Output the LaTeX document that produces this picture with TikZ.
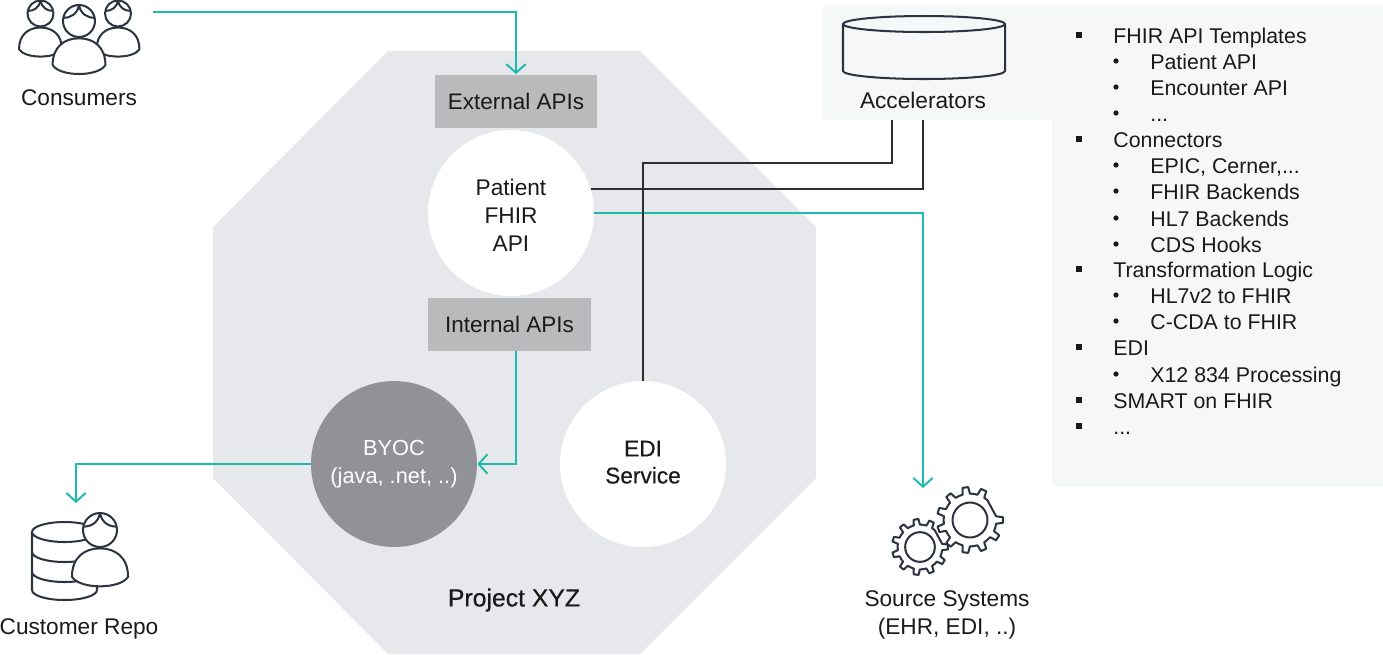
\documentclass[tikz,border=0pt]{standalone}
\usepackage{fontspec}
\setmainfont{Liberation Sans}
\newfontfamily\mediumfont[FakeBold=0.5]{Liberation Sans}
\usetikzlibrary{arrows.meta}
\definecolor{octagrey}{HTML}{E7E8EC}
\definecolor{boxgrey}{HTML}{B9BABC}
\definecolor{byocgrey}{HTML}{919295}
\definecolor{panelgrey}{HTML}{F6F8F8}
\definecolor{linkteal}{HTML}{1FB9AE}
\definecolor{linkblack}{HTML}{2E2E30}
\definecolor{iconblue}{HTML}{2B3440}
\definecolor{inkblack}{HTML}{1A1A1A}
\tikzset{
    apibox/.style={fill=boxgrey,minimum width=3.26cm,minimum height=1.06cm,inner sep=0pt,font=\fontsize{12.8}{15.6}\selectfont},
    roundnode/.style={circle,fill=white,minimum size=3.32cm,inner sep=0pt,align=center,font=\fontsize{12.9}{15.7}\selectfont},
    label/.style={inner sep=0pt,align=center,font=\fontsize{12.9}{16.4}\selectfont},
    itemtext/.style={inner sep=0pt,anchor=base west,font=\fontsize{12.15}{15}\selectfont},
    topbullet/.style={fill=inkblack,minimum size=3pt,inner sep=0pt},
    subbullet/.style={circle,fill=inkblack,minimum size=3pt,inner sep=0pt},
    teallink/.style={draw=linkteal,line width=1.1pt,-{Straight Barb[length=5pt,width=11pt]}},
    blacklink/.style={draw=linkblack,line width=1.1pt},
    iconline/.style={draw=iconblue,line width=1.15pt,line join=round},
    person/.pic={
        \draw[iconline,fill=white] (-1.65,2.75) .. controls (-1.65,1.6) and (-0.9,1.08) .. (0,1.08)
            .. controls (0.9,1.08) and (1.65,1.6) .. (1.65,2.75)
            .. controls (1.2,3.5) and (-1.2,3.5) .. cycle;
        \draw[iconline,fill=white] (0,0) circle (1);
        \draw[iconline] (0,-1) .. controls (-0.1,-0.45) and (-0.5,-0.2) .. (-0.97,-0.2);
        \draw[iconline] (0,-1) .. controls (0.1,-0.45) and (0.5,-0.2) .. (0.97,-0.2);
    },
    gear/.pic={
        \draw[iconline,fill=white] (-8:0.8)
            \foreach \ang in {0,32.73,...,327} {
                -- (\ang-8:0.8) -- (\ang-5:1) -- (\ang+5:1) -- (\ang+8:0.8) -- (\ang+16.36:0.8)
            } -- cycle;
        \draw[iconline] (0,0) circle (0.53);
    }
}
\begin{document}
\begin{tikzpicture}[x=0.02cm,y=-0.02cm,text=inkblack]
    \useasboundingbox (0,0) rectangle (1383,654);

    %%%%%%%%%% Sfondi %%%%%%%%%%
    \fill[octagrey] (388,51) -- (640,51) -- (816,227) -- (816,478) -- (640,654)
        -- (388,654) -- (213,478) -- (213,227) -- cycle;
    \fill[panelgrey] (823,5) -- (1383,5) -- (1383,486) -- (1052,486) -- (1052,120) -- (823,120) -- cycle;

    %%%%%%%%%% Nodi %%%%%%%%%%
    \node[apibox] (external) at (516,101) {External APIs};
    \node[apibox] (internal) at (509.5,324.5) {Internal APIs};
    \node[roundnode] (patient) at (511,213) {\rule{0pt}{12pt}Patient\\FHIR\\API};
    \node[roundnode,fill=byocgrey,text=white,font=\fontsize{12.4}{15.6}\selectfont] (byoc) at (394,464) {BYOC\\(java, .net, ..)};
    \node[roundnode,font=\fontsize{12.9}{15.4}\mediumfont] (edi) at (643,464) {EDI\\Service\rule[-2.2pt]{0pt}{1pt}};
    \node[label,font=\fontsize{14.1}{15.4}\mediumfont] (project) at (514,600) {Project XYZ};
    \node[label] (consumers) at (79,98) {Consumers};
    \node[label] (repo) at (79,629) {Customer Repo};
    \node[label] (source) at (947,615) {Source Systems\\(EHR, EDI, ..)};
    \node[label] (accel) at (923,100) {Accelerators};

    %%%%%%%%%% Icone %%%%%%%%%%
    \pic[scale=13] at (40.5,13.5) {person};
    \pic[scale=13] at (118,13.5) {person};
    \pic[scale=16] at (79,21) {person};

    \draw[iconline,fill=white] (32,532) -- (32,590) arc (180:0:32.5 and 10) -- (97,532);
    \draw[iconline] (32,552) arc (180:0:32.5 and 10);
    \draw[iconline] (32,572) arc (180:0:32.5 and 10);
    \draw[iconline,fill=white] (64.5,532) ellipse (32.5 and 10);
    \pic[scale=17] at (100,530) {person};

    \draw[iconline,fill=panelgrey] (843,24) -- (843,71) arc (180:0:81 and 8) -- (1005,24);
    \draw[iconline,fill=panelgrey] (924,24) ellipse (81 and 8);

    \pic[scale=33] at (970,520) {gear};
    \pic[scale=28] at (920,547) {gear};

    %%%%%%%%%% Elenco %%%%%%%%%%
    \foreach \ybase/\txt in {43/FHIR API Templates,147/Connectors,277/Transformation Logic,355/EDI,408/SMART on FHIR,434/{...}} {
        \node[topbullet] (mark\ybase) at (1079,\ybase-8) {};
        \node[itemtext] (item\ybase) at (1113,\ybase) {\txt};
    }
    \foreach \ybase/\txt in {69/Patient API,95/Encounter API,121/{...},173/{EPIC, Cerner,...},199/FHIR Backends,226/HL7 Backends,252/CDS Hooks,303/HL7v2 to FHIR,329/C-CDA to FHIR,382/X12 834 Processing} {
        \node[subbullet] (mark\ybase) at (1116,\ybase-8) {};
        \node[itemtext] (item\ybase) at (1150,\ybase) {\txt};
    }

    %%%%%%%%%% Estremi liberi %%%%%%%%%%
    \coordinate (consumersout) at (153,12);
    \coordinate (repoin) at (76,503);
    \coordinate (sourcein) at (923,488);
    \coordinate (ediknee) at (892,163);
    \coordinate (accelleft) at (892,120);
    \coordinate (accelright) at (923,120);
    \coordinate (internalout) at (516,351);

    %%%%%%%%% Frecce %%%%%%%%%
    \draw[teallink] (consumersout) -| (external.north);
    \draw[teallink] (internalout) |- (byoc.east);
    \draw[teallink] (byoc.west) -| (repoin);
    \draw[teallink] (patient.east) -| (sourcein);
    \draw[blacklink] (patient.17.5) -| (accelright);
    \draw[blacklink] (edi.north) |- (ediknee) -- (accelleft);
\end{tikzpicture}
\end{document}
